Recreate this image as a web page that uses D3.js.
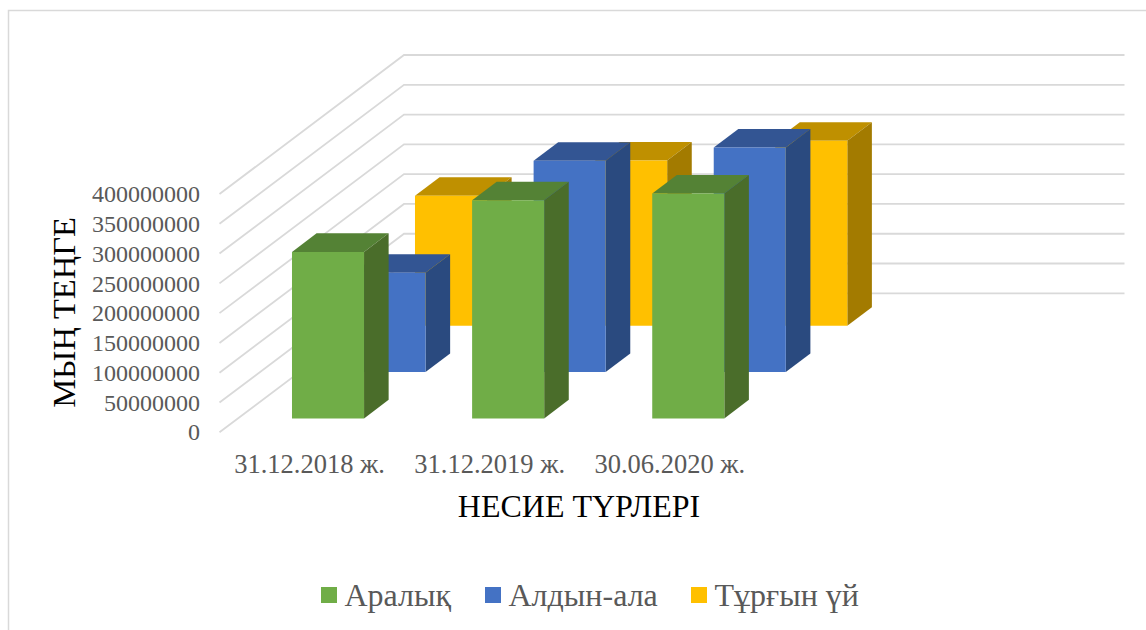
<!DOCTYPE html>
<html>
<head>
<meta charset="utf-8">
<script src="https://cdn.jsdelivr.net/npm/d3@7"></script>
<style>
    html, body { margin: 0; padding: 0; background: #fff; }
    text { font-family: "Liberation Serif", serif; }
</style>
</head>
<body>
<div id="chart"></div>
<script>
// data
var categories = ["31.12.2018 ж.", "31.12.2019 ж.", "30.06.2020 ж."];
var seriesNames = ["Аралық", "Алдын-ала", "Тұрғын үй"];
var aralyq = [279500000, 366000000, 377500000];
var aldynAla = [166500000, 354500000, 377000000];
var turgynUi = [218000000, 277500000, 310500000];
var yTicks = [0, 50000000, 100000000, 150000000, 200000000, 250000000, 300000000, 350000000, 400000000];

var seriesValues = [aralyq, aldynAla, turgynUi];
var frontColors = ["#70ad47", "#4472c4", "#ffc000"];
var topColors = ["#548235", "#335593", "#bf9000"];
var sideColors = ["#4a6d2a", "#2a4a7f", "#a37b00"];

var svg = d3.select("#chart").append("svg")
    .attr("width", 1146)
    .attr("height", 630)
    .style("display", "block");

// outer frame of the chart area, only top and left are visible
svg.append("path")
    .attr("d", "M8.5,630V10.5H1146")
    .attr("fill", "none")
    .attr("stroke", "#d9d9d9")
    .attr("stroke-width", 1.5);

// the front plane of the 3D box, plus an empty fourth slot like in the original
var x = d3.scaleBand()
    .domain(categories.concat([""]))
    .range([219.5, 940]);

var y = d3.scaleLinear()
    .domain([0, 400000000])
    .range([432.3, 194]);

// series sit one behind the other, 0 = front wall, 1 = back wall
var depth = d3.scaleBand()
    .domain(seriesNames)
    .range([0, 1]);

var depthDx = 184.5, depthDy = 139;
var barPad = 0.3;

function project(px, value, t) {
    return [px + t * depthDx, y(value) - t * depthDy];
}

function poly(points) {
    return points.map(function(p) { return p.join(","); }).join(" ");
}

// gridlines: floor/wall corner then along the back wall
svg.append("g").selectAll("polyline")
    .data(yTicks)
    .enter().append("polyline")
    .attr("points", function(d) {
        var front = project(x.range()[0], d, 0);
        var back = project(x.range()[0], d, 1);
        var end = project(x.range()[1], d, 1);
        return poly([front, back, end]);
    })
    .attr("fill", "none")
    .attr("stroke", "#d9d9d9")
    .attr("stroke-width", 1.8);

// bars, back series first so the front ones cover them
var bw = x.bandwidth(), dw = depth.bandwidth();

d3.range(seriesNames.length - 1, -1, -1).forEach(function(s) {
    var t0 = depth(seriesNames[s]) + dw * barPad;
    var t1 = t0 + dw * (1 - 2 * barPad);
    var g = svg.append("g").attr("class", "series");

    seriesValues[s].forEach(function(v, i) {
        var x0 = x(categories[i]) + bw * barPad;
        var x1 = x0 + bw * (1 - 2 * barPad);

        g.append("polygon")
            .attr("points", poly([project(x0, v, t0), project(x1, v, t0), project(x1, v, t1), project(x0, v, t1)]))
            .attr("fill", topColors[s]);

        g.append("polygon")
            .attr("points", poly([project(x1, 0, t0), project(x1, v, t0), project(x1, v, t1), project(x1, 0, t1)]))
            .attr("fill", sideColors[s]);

        g.append("polygon")
            .attr("points", poly([project(x0, 0, t0), project(x1, 0, t0), project(x1, v, t0), project(x0, v, t0)]))
            .attr("fill", frontColors[s]);
    });
});

// axes
var yAxis = d3.axisLeft(y)
    .tickValues(yTicks)
    .tickFormat(d3.format("d"))
    .tickSize(0)
    .tickPadding(0);

svg.append("g")
    .attr("class", "y-axis")
    .attr("transform", "translate(200,0)")
    .call(yAxis);

var xAxis = d3.axisBottom(x)
    .tickSize(0)
    .tickPadding(0);

svg.append("g")
    .attr("class", "x-axis")
    .attr("transform", "translate(0,454)")
    .call(xAxis);

svg.selectAll(".y-axis .domain, .x-axis .domain").remove();
svg.selectAll(".y-axis text, .x-axis text")
    .attr("fill", "#595959")
    .style("font-family", '"Liberation Serif", serif');
svg.selectAll(".y-axis text").style("font-size", "24px");
svg.selectAll(".x-axis text").style("font-size", "26.5px");

// axis titles
svg.append("text")
    .attr("transform", "translate(75,312.5) rotate(-90)")
    .attr("text-anchor", "middle")
    .attr("fill", "#000")
    .style("font-size", "32.5px")
    .text("МЫҢ ТЕҢГЕ");

svg.append("text")
    .attr("x", 579)
    .attr("y", 517)
    .attr("text-anchor", "middle")
    .attr("fill", "#000")
    .style("font-size", "32px")
    .text("НЕСИЕ ТҮРЛЕРІ");

// legend
var legendX = [321, 485, 691];

var legend = svg.append("g").selectAll("g")
    .data(seriesNames)
    .enter().append("g")
    .attr("transform", function(d, i) { return "translate(" + legendX[i] + ",587)"; });

legend.append("rect")
    .attr("width", 16)
    .attr("height", 16)
    .attr("fill", function(d, i) { return frontColors[i]; });

legend.append("text")
    .attr("x", 23.5)
    .attr("y", 19)
    .attr("fill", "#595959")
    .style("font-size", "32px")
    .text(function(d) { return d; });
</script>
</body>
</html>
